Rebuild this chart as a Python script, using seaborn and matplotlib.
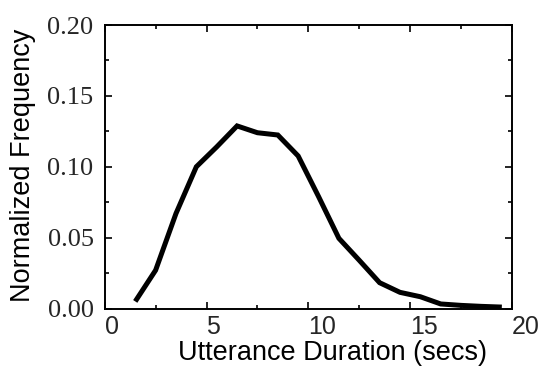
import matplotlib
matplotlib.use("Agg")
import matplotlib.pyplot as plt
from matplotlib.ticker import MultipleLocator
import seaborn as sns
import pandas as pd

duration = [1.5, 2.5, 3.5, 4.5, 5.5, 6.5, 7.5, 8.5, 9.5, 10.5,
            11.5, 12.5, 13.5, 14.5, 15.5, 16.5, 17.5, 18.5, 19.5]
frequency = [0.005, 0.027, 0.067, 0.100, 0.114, 0.1288, 0.124, 0.1224, 0.1076, 0.079,
             0.0495, 0.034, 0.0182, 0.0114, 0.0083, 0.0032, 0.0022, 0.0015, 0.001]
x_ticks = [0, 5, 10, 15, 20]
y_ticks = [0.00, 0.05, 0.10, 0.15, 0.20]
y_tick_labels = ["0.00", "0.05", "0.10", "0.15", "0.20"]

sns.set_style("white")
plt.rcParams["font.family"] = ["Liberation Sans", "DejaVu Sans"]

df = pd.DataFrame({"duration": duration, "frequency": frequency})

fig = plt.figure(figsize=(5.43, 3.68), dpi=100)
ax = fig.add_axes([104.7 / 543, 1 - 308.5 / 368, 407.3 / 543, 283.5 / 368])

sns.lineplot(data=df, x="duration", y="frequency", ax=ax, color="black",
             linewidth=3.6, solid_joinstyle="miter", solid_capstyle="butt")

ax.set_xlim(0, 20)
ax.set_ylim(0, 0.20)
ax.set_xticks(x_ticks)
ax.set_xticklabels([str(t) for t in x_ticks], ha="left",
                   fontfamily="Liberation Sans", fontsize=18)
ax.set_yticks(y_ticks)
ax.set_yticklabels(y_tick_labels, fontfamily="Liberation Serif", fontsize=19)
ax.xaxis.set_minor_locator(MultipleLocator(2.5))
ax.yaxis.set_minor_locator(MultipleLocator(0.025))

ax.tick_params(which="both", direction="in", top=True, right=True,
               bottom=True, left=True, color="black", width=1.2)
ax.tick_params(which="major", length=5)
ax.tick_params(which="minor", length=3)
ax.tick_params(axis="x", which="major", pad=5)
ax.tick_params(axis="y", which="major", pad=8)

for sp in ax.spines.values():
    sp.set_color("black")
    sp.set_linewidth(1.4)

ax.set_xlabel("Utterance Duration (secs)", fontsize=19.5, color="black")
ax.set_ylabel("Normalized Frequency", fontsize=19.5, color="black")
ax.xaxis.set_label_coords(0.559, -0.157)
ax.xaxis.label.set_va("center")
ax.yaxis.set_label_coords(-0.2006, 0.506)
ax.yaxis.label.set_va("center")

fig.savefig("out.png", dpi=100)
